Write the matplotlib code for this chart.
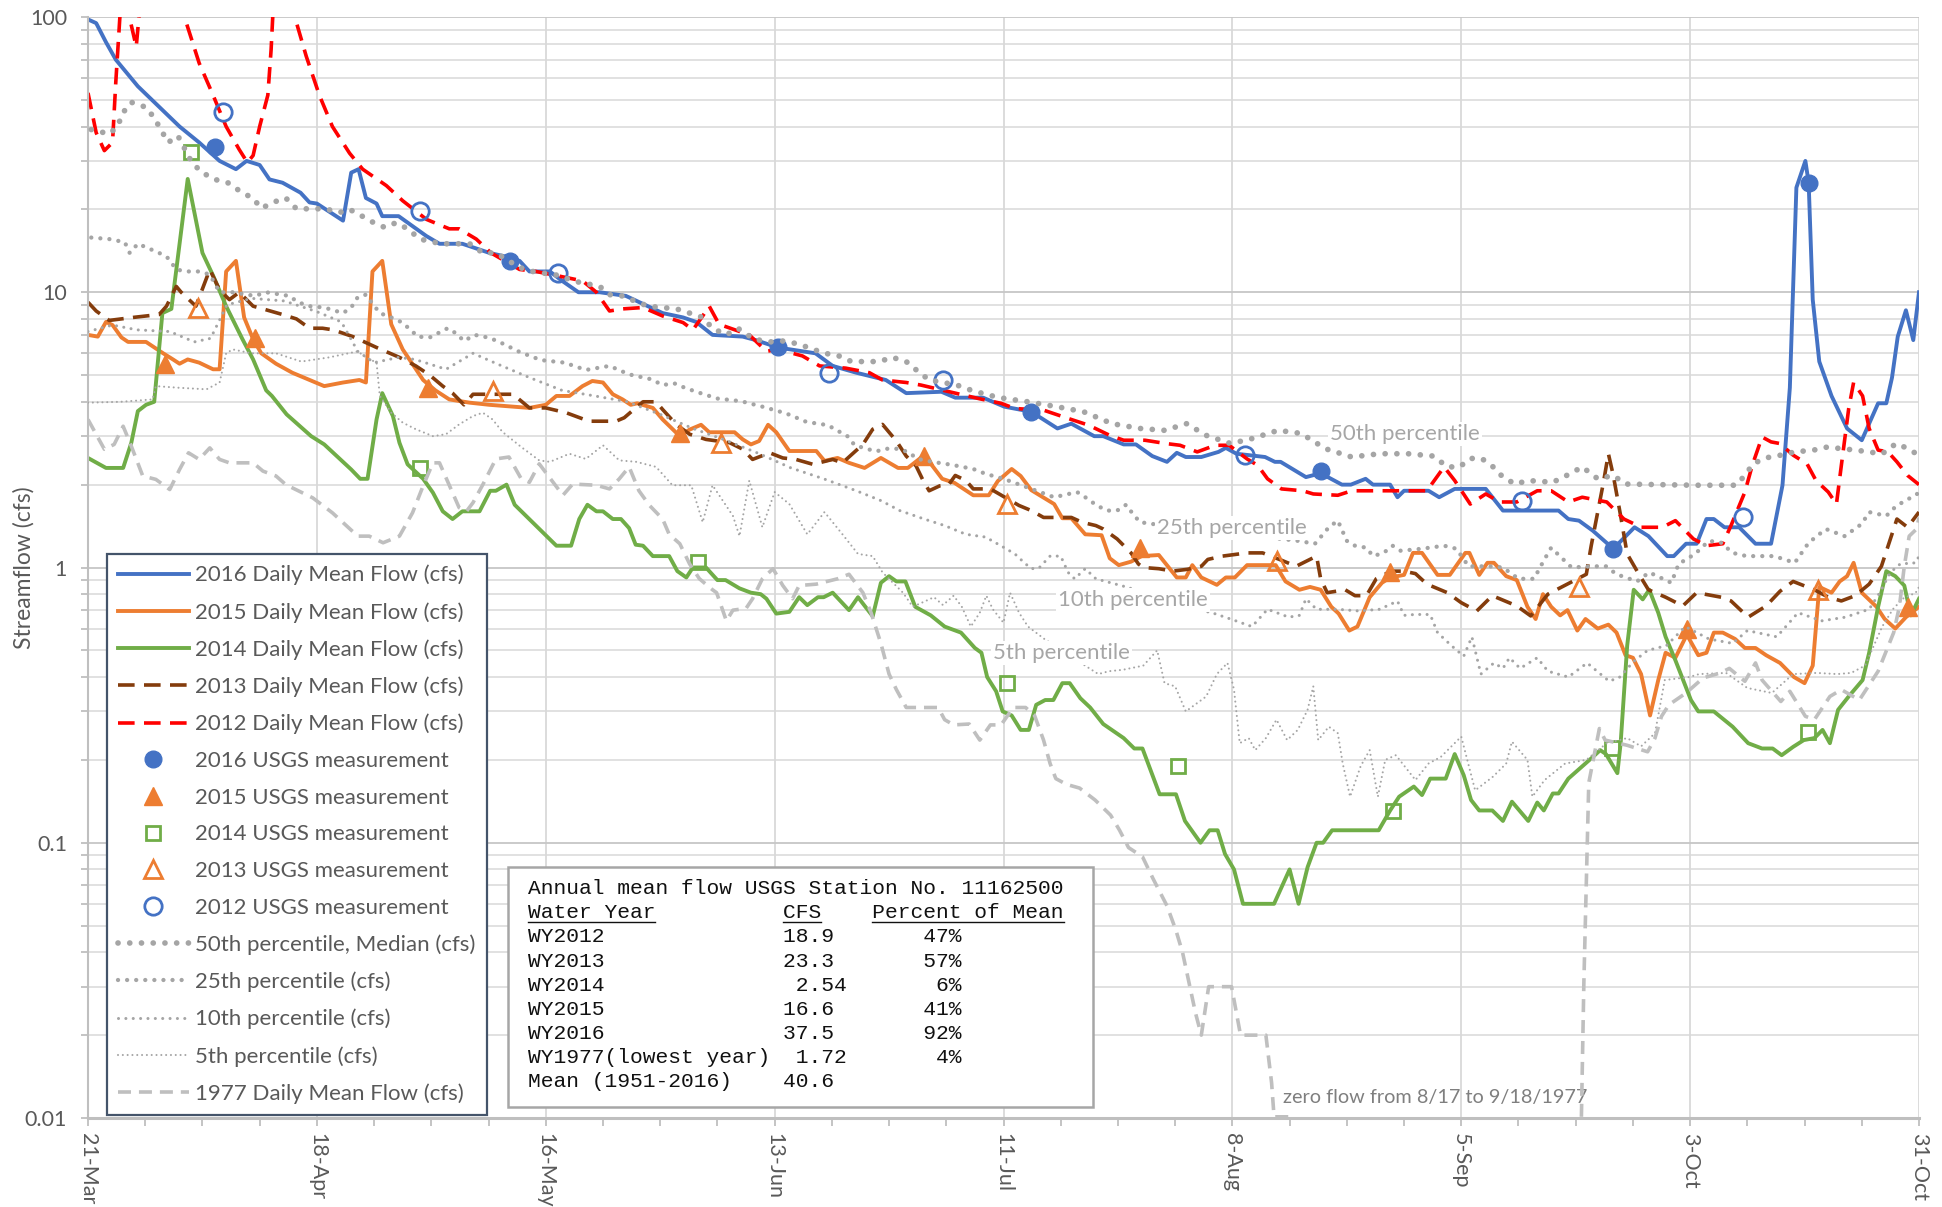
import numpy as np
import matplotlib
matplotlib.use("Agg")
import matplotlib.pyplot as plt
from matplotlib.lines import Line2D
from matplotlib.patches import Rectangle
from matplotlib.ticker import LogLocator, NullFormatter

# ---------------- data (day 0 = 21-Mar) ----------------
X_TICK_DAYS = [0, 28, 56, 84, 112, 140, 168, 196, 224]
X_TICK_LABELS = ["21-Mar", "18-Apr", "16-May", "13-Jun", "11-Jul", "8-Aug", "5-Sep", "3-Oct", "31-Oct"]
Y_TICKS = [0.01, 0.1, 1, 10, 100]
Y_TICK_LABELS = ["0.01", "0.1", "1", "10", "100"]

FLOW_2016 = [(0,98),(1,95),(2.2,81),(3.4,70),(6.1,56),(11.2,40),(13.6,35),(16.1,30),(18.1,28),(19.4,30),(21,29),
    (22.2,25.7),(23.8,25),(26,23),(27.1,21.2),(28,21),(31.2,18.2),(32.2,27.2),(33.1,28),(34,22),(35.3,21),(36,18.9),
    (38,18.9),(41.4,16),(43,15),(45.8,15),(49.1,13.9),(51,13.5),(52.8,13),(54,11.9),(56.5,11.9),(58,11),(60,10),
    (62.6,10),(65.8,9.7),(70.3,8.4),(72.8,8.1),(74.4,7.8),(76.4,7.0),(80.1,6.9),(81.7,6.7),(84.4,6.3),(89,6.0),
    (91.1,5.4),(94,5.1),(97.6,4.8),(100.1,4.3),(104.4,4.35),(106.1,4.14),(109.5,4.14),(112.1,3.84),(115.4,3.68),
    (118.6,3.2),(120.3,3.33),(123.1,3.0),(124.2,3.0),(126.7,2.8),(128.2,2.8),(130.2,2.54),(132,2.42),(133.2,2.61),
    (134.3,2.52),(136.2,2.52),(138.3,2.63),(139.2,2.72),(140.5,2.59),(144,2.52),(145.2,2.42),(145.9,2.42),(149,2.13),
    (150.8,2.2),(153.4,2.0),(154.5,2.0),(156.3,2.1),(157.2,2.0),(159.3,2.0),(160.2,1.8),(161,1.9),(164,1.9),(165.3,1.8),
    (167.2,1.93),(171,1.93),(173.1,1.61),(179.9,1.61),(181.1,1.5),(182.4,1.48),(184.1,1.36),(186.6,1.17),(189.2,1.4),
    (190.9,1.3),(193.2,1.1),(194,1.1),(195.5,1.22),(196.8,1.22),(198,1.5),(198.9,1.5),(200.2,1.4),(202,1.4),(204,1.22),
    (205.9,1.22),(207.3,1.99),(208.2,4.5),(209,24),(210.1,30),(210.5,25),(211,9.4),(211.8,5.6),(213.3,4.2),(215.2,3.2),
    (217,2.9),(219,3.95),(220,3.95),(220.7,4.9),(221.4,6.9),(222.4,8.6),(223.3,6.7),(224,10)]

FLOW_2015 = [(0,7.0),(1.2,6.9),(2.2,7.8),(3,7.6),(4.1,6.85),(4.9,6.6),(7.1,6.6),(9.2,6.0),(10.4,5.7),(11.2,5.5),
    (12.2,5.7),(13.6,5.55),(15.3,5.25),(16.1,5.25),(16.9,11.9),(18.1,13),(19.1,8.1),(20.2,6.75),(21.2,6.0),(23,5.5),
    (25,5.1),(27.1,4.8),(28.9,4.56),(31.2,4.7),(33.2,4.8),(34,4.7),(34.8,11.9),(36,13),(37.1,7.65),(38.5,6.2),(41,4.8),
    (42.5,4.4),(44.2,4.08),(46.7,3.97),(49.1,3.9),(54,3.8),(56,3.9),(57.3,4.2),(58.9,4.2),(60.5,4.56),(61.7,4.76),
    (63,4.7),(64.2,4.26),(65.4,4.08),(66.4,3.9),(67.2,3.95),(69.1,3.8),(70.3,3.45),(72.4,3.0),(73.6,3.17),(75,3.3),
    (76,3.1),(79.1,3.1),(80.1,2.92),(81.1,2.8),(82.1,2.88),(83.2,3.3),(84.2,3.1),(85.8,2.65),(89.1,2.65),(90.1,2.44),
    (91.7,2.5),(93.1,2.4),(95,2.3),(97,2.5),(99.1,2.3),(100.3,2.3),(102.3,2.56),(104.5,2.1),(106,2.03),(108.3,1.83),
    (110.2,1.83),(111.3,2.06),(113,2.28),(114.1,2.15),(115.4,1.91),(118.2,1.7),(119.2,1.51),(120.3,1.51),(122,1.32),
    (124,1.31),(125,1.08),(126.1,1.02),(127.6,1.05),(128.9,1.1),(131,1.11),(133.2,0.92),(134.3,0.92),(135.1,1.02),
    (136.2,0.92),(138.1,0.865),(139.2,0.92),(140.3,0.92),(141.8,1.02),(145.3,1.02),(146.5,0.89),(148.2,0.83),
    (149.5,0.85),(150.8,0.83),(152.1,0.72),(153,0.68),(154.3,0.59),(155.3,0.61),(156.8,0.78),(158.3,0.88),(159.3,0.92),
    (161,0.94),(162.1,1.13),(163.2,1.13),(165.1,0.94),(166.6,0.94),(168.5,1.13),(169,1.13),(170.2,0.94),(171.2,1.04),
    (172,1.04),(173.5,0.93),(174.8,0.90),(176.1,0.72),(177.1,0.65),(178,0.80),(179,0.72),(180.1,0.67),(181,0.70),
    (182.2,0.59),(183.2,0.65),(184.7,0.60),(186,0.62),(187,0.58),(188.1,0.48),(189,0.47),(190,0.41),(191.1,0.29),
    (192.1,0.39),(193,0.49),(194.2,0.47),(195.6,0.57),(197,0.48),(198,0.49),(198.9,0.58),(200,0.58),(201.5,0.55),
    (202.7,0.51),(204,0.51),(205.3,0.48),(207,0.45),(208.7,0.40),(210,0.38),(211,0.44),(211.8,0.85),(213.3,0.81),
    (214.3,0.89),(215.2,0.93),(216,1.04),(217,0.81),(218.8,0.72),(219.8,0.65),(221.1,0.60),(222.4,0.66),(224,0.72)]

FLOW_2014 = [(0,2.5),(2.2,2.3),(4.3,2.3),(5.3,2.84),(6.1,3.7),(7.1,3.9),(8.1,4.0),(9.1,8.4),(10.2,8.7),(12.2,25.8),
    (14,13.9),(15.3,11.5),(16.9,8.9),(18.9,6.75),(20.2,5.7),(21.8,4.4),(22.5,4.2),(24.3,3.6),(27.3,3.0),(28.9,2.8),
    (32.2,2.27),(33.3,2.1),(34.2,2.1),(35.3,3.45),(36,4.3),(37.3,3.55),(38.1,2.84),(39.1,2.37),(41,2.1),(42.2,1.87),
    (43.4,1.6),(44.6,1.5),(45.8,1.6),(47.9,1.6),(49.2,1.9),(49.9,1.9),(51.2,2.0),(52.2,1.69),(57.3,1.2),(59.1,1.2),
    (60.1,1.5),(61.1,1.69),(62.2,1.6),(63,1.6),(64.2,1.5),(65.2,1.5),(66.2,1.39),(67,1.21),(67.9,1.2),(69.1,1.1),
    (71.1,1.1),(72.1,0.97),(73.2,0.92),(74,1.0),(75.6,1.0),(77,0.9),(78,0.9),(79.7,0.84),(81.1,0.81),(82.3,0.8),
    (83,0.77),(84.2,0.68),(85.8,0.69),(87,0.78),(88,0.73),(89.3,0.78),(90,0.78),(91.1,0.81),(93.1,0.70),(94.2,0.78),
    (96,0.665),(97,0.88),(98,0.93),(98.9,0.89),(100,0.89),(101.2,0.72),(103.1,0.67),(104.8,0.61),(106.8,0.58),
    (108.5,0.51),(109.3,0.49),(110,0.40),(111.1,0.355),(111.9,0.30),(113,0.29),(114.1,0.257),(115.1,0.257),(116,0.317),
    (117.1,0.33),(118.1,0.33),(119.2,0.38),(120.1,0.38),(121.4,0.335),(122.6,0.31),(124.2,0.27),(126.7,0.24),(128,0.22),
    (129,0.22),(131.1,0.15),(133.1,0.15),(134.2,0.12),(136.1,0.10),(137.2,0.111),(138.2,0.111),(139.1,0.091),
    (140.2,0.080),(141.3,0.06),(145.1,0.06),(147,0.08),(148.1,0.06),(149.2,0.0815),(150.3,0.1),(151.1,0.1),
    (152.2,0.111),(157.9,0.111),(159.3,0.131),(160.4,0.147),(162.2,0.16),(163.2,0.149),(164.2,0.171),(166.1,0.171),
    (167.2,0.21),(168.3,0.176),(169.2,0.143),(170.2,0.131),(171.8,0.131),(173.1,0.12),(174.2,0.141),(176.2,0.12),
    (177.3,0.14),(178.1,0.131),(179.2,0.151),(179.9,0.151),(181.1,0.171),(183.1,0.193),(184.1,0.205),(185,0.217),
    (185.7,0.21),(187.1,0.179),(187.5,0.23),(188.3,0.52),(189.1,0.83),(190.2,0.766),(191,0.83),(192.1,0.685),(193,0.56),
    (194.2,0.46),(196.1,0.33),(197,0.30),(198.9,0.30),(201.2,0.264),(203.1,0.23),(204.8,0.22),(206.1,0.22),
    (207.2,0.208),(208.6,0.223),(209.9,0.236),(211.2,0.24),(212.2,0.257),(213.1,0.23),(214.1,0.304),(215.4,0.34),
    (217.1,0.39),(217.9,0.49),(219,0.72),(220,0.97),(221.1,0.93),(222.2,0.86),(223,0.67),(224,0.77)]

FLOW_2013 = [(0,9.2),(1,8.55),(2.6,7.9),(5.5,8.1),(8.7,8.3),(9.6,8.9),(10.8,10.5),(11.4,10),(13.2,8.9),(14.9,12.1),
    (16.1,10.2),(17.3,9.4),(18.5,10),(20.2,8.9),(21.4,8.7),(23.8,8.3),(25.5,8.0),(27.1,7.4),(28.7,7.4),(30,7.3),
    (32.4,6.9),(35.3,6.3),(38.1,5.8),(40.1,5.4),(41.8,5.0),(43.4,4.56),(44.6,4.3),(46,3.9),(47.1,4.26),(52,4.26),
    (54,3.8),(56,3.8),(58.5,3.65),(61.3,3.4),(64.6,3.4),(65.6,3.5),(67,3.8),(67.9,4.0),(69.5,4.0),(70.3,3.75),(72,3.3),
    (73.6,3.05),(75.6,2.92),(78.5,2.84),(80.1,2.69),(81.3,2.47),(83.4,2.61),(85,2.5),(86.6,2.47),(88.7,2.37),
    (91.1,2.47),(92.3,2.4),(94.8,2.8),(96,3.18),(97.2,3.31),(98.9,2.88),(100.1,2.54),(101.3,2.34),(102.1,2.09),
    (102.9,1.9),(104.2,1.98),(105.3,2.0),(106.1,2.16),(107.4,2.07),(108.3,1.93),(110.4,1.93),(113.9,1.68),(115.4,1.61),
    (116.9,1.52),(120.3,1.52),(121.6,1.46),(123.3,1.42),(124.2,1.38),(125.9,1.27),(127.6,1.13),(128.5,1.03),(129.1,1.0),
    (131,0.99),(132.7,0.97),(134.5,0.985),(136.2,1.01),(137,1.07),(138.8,1.10),(141.8,1.13),(143.7,1.13),(146.1,1.06),
    (147.8,1.01),(150.3,1.1),(150.8,0.91),(151.6,0.81),(153.8,0.83),(155,0.79),(156.4,0.79),(157.6,0.91),(159.4,0.97),
    (161,0.97),(162.4,0.95),(163.8,0.87),(166.3,0.81),(168,0.745),(169.9,0.695),(171.8,0.79),(174.8,0.725),
    (176.5,0.667),(178.6,0.80),(180.3,0.85),(183.3,0.945),(183.9,1.2),(184.7,1.59),(185.4,2.04),(186,2.59),(186.6,2.16),
    (187.5,1.54),(188.3,1.12),(189.6,0.96),(190.9,0.83),(193,0.78),(195.1,0.725),(196.8,0.81),(199.8,0.78),(201,0.756),
    (203.1,0.66),(205.3,0.725),(207,0.82),(208.6,0.89),(211.2,0.83),(212.9,0.78),(214.5,0.756),(216.2,0.79),
    (217.9,0.87),(219.4,1.01),(220.5,1.27),(221.3,1.5),(222.6,1.4),(224,1.59)]

FLOW_2012 = [(0,53),(1,38),(2,32.7),(3,35),(3.4,58),(3.9,100),(4.4,130),(4.9,105),(5.9,78),(6.3,105),(6.8,140),
    (11.3,140),(11.8,100),(13.6,68),(15.3,52),(16.9,40),(18.5,33),(19.5,29.6),(20.2,31.4),(21,40),(22,52),(22.4,76),
    (22.6,100),(23,140),(25,140),(25.3,100),(26.7,72),(28.3,52),(29.9,40),(32,32),(33.6,28),(36.5,24.4),(38.5,21.5),
    (41.4,18.4),(44.2,17),(45.4,17),(47.5,15.6),(49.3,13.9),(52.8,12.1),(54.8,11.9),(57.3,11.5),(60.5,11),(62.2,10),
    (63.8,8.55),(65.4,8.7),(67.9,8.8),(70.3,8.2),(72.8,7.76),(74,7.3),(75.2,8.2),(76,8.9),(77.2,7.65),(80.9,7.0),
    (83,6.1),(84.4,6.2),(87.4,5.87),(89.5,5.4),(92.7,5.3),(95.6,5.1),(97.2,4.8),(100.1,4.7),(101.9,4.6),(106.1,4.3),
    (109.1,4.1),(111.7,3.95),(113.4,3.78),(116.9,3.73),(119.9,3.48),(122.4,3.29),(125,3.02),(126.7,2.9),(129.3,2.9),
    (131.9,2.82),(133.6,2.78),(135.7,2.63),(137.9,2.78),(139.6,2.78),(141.8,2.48),(143.1,2.35),(144.3,2.1),(146,1.93),
    (148.6,1.9),(149.9,1.85),(152.9,1.83),(154.6,1.9),(163.8,1.9),(165.9,2.32),(167.2,2.07),(169.1,1.7),(171,1.85),
    (172.7,1.73),(174.8,1.73),(177.3,1.9),(179,1.9),(181.1,1.73),(182.8,1.8),(185.8,1.73),(187.9,1.5),(190,1.4),
    (192.6,1.4),(194.2,1.48),(196.4,1.27),(198,1.2),(200,1.22),(201,1.42),(202.7,1.88),(203.6,2.35),(204.8,2.98),
    (205.9,2.86),(207,2.82),(208.6,2.56),(210.3,2.38),(211.4,2.07),(212.9,1.88),(213.9,1.7),(214.5,2.35),(215.4,3.78),
    (216,4.7),(217.1,4.2),(217.9,3.2),(219,2.67),(220.2,2.63),(221.3,2.42),(222.6,2.16),(224,2.0)]

MEAS_2016 = [(15.5,33.6),(51.6,13.0),(84.4,6.3),(115.4,3.68),(150.8,2.25),(186.6,1.17),(210.5,25)]
MEAS_2015 = [(9.4,5.5),(20.4,6.8),(41.6,4.5),(72.4,3.07),(102.3,2.55),(128.7,1.18),(159.3,0.96),(195.6,0.60),(222.6,0.72)]
MEAS_2014 = [(12.6,32.4),(40.6,2.3),(74.6,1.05),(112.4,0.38),(133.4,0.19),(159.6,0.13),(186.4,0.22),(210.4,0.253)]
MEAS_2013 = [(13.4,8.8),(49.5,4.38),(77.5,2.84),(112.4,1.70),(145.4,1.06),(182.4,0.85),(211.6,0.83)]
MEAS_2012 = [(16.5,45),(40.6,19.7),(57.5,11.7),(90.6,5.1),(104.6,4.8),(141.5,2.57),(175.4,1.74),(202.5,1.52)]

PCT_50 = [(0.4,39),(2.6,37.6),(3.6,40),(4.3,45),(5.3,49),(7.1,47),(8.1,43),(9,38.6),(9.8,35),(11,37),(12.6,30),
    (13.8,27.4),(15.5,25.7),(17.1,25),(18.5,23.4),(20.2,21.9),(21.2,20.2),(23.6,21.8),(24.2,22),(25.5,20.1),(29,20.1),
    (30.8,19.5),(32,20),(33.4,19),(34.8,18),(36.3,17.2),(37.7,17.9),(39.1,17),(40.6,15.6),(43.2,15),(46.7,15),
    (48.3,13.9),(49.9,13.9),(52.8,12.3),(54.4,11.9),(57.7,11.5),(59.3,11),(62.6,10.5),(63.8,9.8),(65.3,9.7),(68.5,8.9),
    (72,8.7),(73.6,8.4),(75.2,8.1),(76.4,7.4),(78.1,7.0),(79.5,7.4),(81.5,6.75),(83.4,6.6),(85,6.65),(86.8,6.5),
    (90.1,6.0),(91.7,5.9),(93.4,5.6),(96.8,5.6),(98.4,5.8),(100.1,5.6),(101.4,5.2),(102.9,4.8),(104.6,4.7),(106.3,4.6),
    (108.1,4.4),(109.8,4.26),(111.5,4.14),(115,4.0),(118.5,3.84),(121.8,3.68),(125.3,3.33),(128.7,3.2),(131.7,3.15),
    (134.4,3.33),(136.8,3.02),(139.8,2.82),(142.4,2.94),(145.6,3.15),(148.4,3.07),(151.4,2.7),(154.6,2.52),(158,2.59),
    (161.5,2.59),(164.6,2.54),(166.3,2.32),(167.8,2.32),(169.1,2.49),(170.5,2.49),(171.9,2.32),(173.1,2.13),(174.6,2.01),
    (176.2,2.07),(179.2,2.04),(181.3,2.19),(182.8,2.32),(184.7,2.1),(186.6,2.16),(188.1,2.01),(196.6,1.99),(201.6,1.99),
    (202.7,2.16),(203.7,2.38),(205.2,2.5),(207.1,2.56),(208.8,2.63),(211.1,2.67),(212.8,2.74),(214.6,2.7),(216.3,2.67),
    (217.8,2.63),(219.5,2.59),(221.2,2.82),(222.2,2.74),(223.5,2.61),(224,2.6)]

PCT_25 = [(0.4,15.8),(2.6,15.6),(4.5,15.2),(5.1,13.9),(6.1,15),(8.7,13.9),(9.8,13.3),(10.8,12.1),(12,11.9),(13.6,11.9),
    (14.9,11.6),(16.1,10),(17.7,10),(20.4,9.7),(21.8,10),(24.6,9.7),(25.7,9.2),(27.1,8.9),(28.9,8.8),(31.2,8.4),
    (32.2,8.8),(33,9.6),(34,9.8),(34.8,9.1),(35.7,8.4),(37.1,8.1),(38.3,7.8),(39.5,7.3),(40.3,6.9),(41.8,6.85),(44,7.4),
    (45,7.1),(46,6.65),(47.3,7.0),(48.9,6.85),(50.1,6.65),(52.8,6.07),(55.4,5.67),(58.3,5.55),(60.9,5.22),(63.8,5.4),
    (66.2,5.03),(68.9,4.83),(70.3,4.6),(71.7,4.67),(73,4.5),(74.4,4.35),(77,4.11),(79.9,4.02),(82.5,3.84),(85.4,3.63),
    (87.9,3.38),(90.5,3.29),(92.9,3.0),(93.8,2.78),(96.4,2.64),(97.6,2.7),(99.1,2.7),(100.3,2.63),(101.5,2.48),
    (103.3,2.42),(105.7,2.36),(108.3,2.28),(109.8,2.19),(112,2.1),(115,1.95),(118.2,1.8),(121,1.88),(122,1.8),
    (123.3,1.69),(124.6,1.61),(125.9,1.61),(127,1.69),(127.8,1.57),(128.7,1.46),(129.5,1.45),(133,1.4),(137,1.35),
    (141,1.3),(145,1.28),(148,1.25),(150.1,1.22),(150.8,1.29),(151.8,1.4),(152.9,1.48),(154,1.25),(155,1.2),(156.4,1.18),
    (157.2,1.1),(158.5,1.13),(159.6,1.2),(160.6,1.15),(163.2,1.17),(165.9,1.2),(167.4,1.17),(168.9,1.01),(171.4,1.01),
    (173.1,1.0),(175,0.91),(176.9,0.91),(178.1,1.06),(179,1.18),(181.5,1.0),(184,1.01),(185.7,1.01),(187,0.945),
    (189.5,0.89),(191,0.96),(193.7,0.88),(194.6,1.03),(196.6,1.12),(198.3,1.25),(199.8,1.23),(201.2,1.13),(202.9,1.1),
    (206.3,1.1),(208.8,1.04),(210.5,1.23),(212.6,1.38),(214.9,1.3),(217,1.44),(217.9,1.59),(220,1.54),(221.1,1.66),
    (222.3,1.75),(223.6,1.83),(224,1.88)]

PCT_10 = [(0,7.2),(3,7.6),(6,7.3),(10,7.2),(13,6.6),(15,6.8),(17,9.0),(20,9.5),(24,9.3),(28,8.5),(31,7.8),(33,6.1),
    (35,5.55),(38,5.8),(40,5.7),(43.8,5.25),(47.1,6.0),(50,5.5),(54,4.9),(58,4.4),(62,4.2),(66,4.0),(70,3.6),(74,3.2),
    (78,2.9),(82,2.6),(86,2.3),(90,2.1),(94,1.9),(97,1.75),(99.3,1.61),(102.3,1.5),(104.8,1.42),(107.4,1.32),
    (109.8,1.29),(112.1,1.18),(113.4,1.12),(114.7,1.03),(115.5,0.99),(116.4,1.0),(117.7,1.1),(119,1.1),(119.9,0.96),
    (120.7,0.91),(122,0.99),(123.3,0.91),(127,0.85),(131,0.78),(134,0.72),(137.5,0.685),(140.1,0.645),(142.4,0.61),
    (144.3,0.705),(146.9,0.66),(148.2,0.67),(149,0.77),(150.3,0.705),(152.9,0.705),(155.5,0.695),(158,0.705),
    (160.2,0.755),(161,0.67),(162.3,0.675),(164.2,0.675),(165.1,0.58),(166.8,0.52),(168.3,0.476),(169.3,0.56),
    (170.4,0.41),(172,0.45),(173.1,0.43),(173.9,0.47),(175.2,0.43),(177.3,0.47),(178.6,0.42),(181.1,0.40),(183.4,0.45),
    (186.1,0.386),(187.4,0.40),(189.1,0.456),(190.8,0.50),(193.1,0.52),(195.4,0.61),(198.3,0.55),(201.2,0.53),
    (203,0.59),(206.6,0.56),(209.2,0.685),(212.1,0.64),(215,0.66),(217.9,0.705),(219.2,0.81),(220.5,0.96),(221.7,1.03),
    (223.6,1.04),(224,1.1)]

PCT_05 = [(0,3.97),(4,4.0),(7.9,4.08),(8.3,4.56),(11,4.5),(14.5,4.44),(16.1,4.7),(16.9,6.0),(17.7,6.2),(20,6.0),
    (23,6.0),(26.1,5.6),(29.5,5.8),(33,6.1),(34,5.8),(35.3,5.55),(35.7,4.2),(37.1,3.65),(38.5,3.36),(40.1,3.18),
    (42.2,3.0),(43.8,3.05),(45.4,3.31),(47.1,3.55),(48.3,3.65),(49.5,3.45),(50.7,3.11),(53,2.74),(55.2,2.45),
    (56.5,2.42),(58.9,2.59),(60.9,2.48),(63,2.78),(65,2.45),(67.1,2.42),(69.5,2.32),(71.5,1.99),(73.8,1.99),(75.2,1.46),
    (76.4,1.99),(78.9,1.54),(79.7,1.3),(80.9,2.07),(82.5,1.4),(84,1.88),(85.8,1.7),(88,1.32),(90.1,1.59),(92.3,1.32),
    (94.2,1.12),(96,1.1),(97.2,0.96),(99.7,0.81),(100.9,0.72),(103.5,0.78),(104.6,0.73),(105.9,0.79),(106.9,0.72),
    (108,0.61),(109.1,0.685),(109.9,0.79),(110.7,0.705),(112,0.63),(112.8,0.81),(113.9,0.685),(115,0.61),(117,0.55),
    (120,0.48),(123.6,0.41),(124.9,0.42),(126.6,0.425),(129.1,0.44),(130.8,0.50),(131.7,0.38),(133,0.37),(134.3,0.30),
    (135.6,0.32),(136.8,0.34),(138.1,0.41),(139.4,0.45),(140.2,0.36),(140.9,0.23),(142,0.24),(142.8,0.217),(144.1,0.24),
    (145.4,0.28),(146.7,0.236),(148,0.257),(149.2,0.304),(149.9,0.37),(150.5,0.236),(151.8,0.264),(152.9,0.25),
    (153.5,0.194),(154.4,0.147),(155.7,0.19),(156.8,0.217),(157.8,0.147),(158.7,0.2),(160,0.208),(162.4,0.169),
    (164,0.194),(165.5,0.205),(168,0.243),(169.7,0.155),(171.9,0.174),(173.5,0.194),(174.2,0.233),(176.1,0.2),
    (176.7,0.147),(178.2,0.169),(180.7,0.194),(183.3,0.2),(185.8,0.23),(188.3,0.24),(190,0.224),(191.7,0.25),
    (192.9,0.39),(195.9,0.40),(197.1,0.41),(200.4,0.414),(203,0.365),(206,0.35),(208.6,0.41),(211.5,0.414),(214,0.41),
    (215.7,0.414),(217.4,0.44),(218.6,0.53),(219.5,0.61),(220.8,0.705),(222,0.77),(223.6,0.81),(224,0.85)]

FLOW_1977 = [(0,3.45),(2,2.69),(3.2,2.8),(4.3,3.26),(5.3,2.76),(6.7,2.15),(8.3,2.09),(10,1.92),(11.2,2.27),(12.3,2.61),
    (13.6,2.47),(14.9,2.72),(16.1,2.47),(17.3,2.4),(20.2,2.4),(21.4,2.24),(23,2.15),(24.2,2.0),(27.5,1.79),(29.9,1.58),
    (33,1.3),(34.4,1.3),(36.1,1.23),(38.1,1.3),(39.7,1.58),(41,1.98),(42.2,2.4),(43,2.4),(44.2,1.99),(45.4,1.65),
    (46.3,1.6),(47.1,1.72),(48.3,2.0),(49.9,2.48),(51.5,2.52),(53,2.1),(54,2.04),(55.2,2.38),(58.1,1.83),(59.3,2.01),
    (62.2,1.99),(63.8,1.93),(65,2.1),(66.2,2.32),(67.4,1.9),(68.7,1.68),(70.3,1.5),(71.1,1.32),(72.4,1.22),(73.6,1.03),
    (74.8,0.91),(76.4,0.83),(76.9,0.81),(78.1,0.64),(78.9,0.70),(80.5,0.71),(81.3,0.77),(82.5,0.91),(83.8,0.99),
    (85,0.86),(86.2,0.77),(87,0.86),(89.1,0.87),(91.7,0.91),(93.1,0.945),(94.8,0.81),(95.8,0.685),(97,0.53),(98,0.41),
    (98.9,0.36),(100.1,0.31),(104,0.31),(104.8,0.28),(105.9,0.268),(107.8,0.27),(109.1,0.236),(110.4,0.268),
    (111.7,0.268),(113.2,0.31),(114.7,0.31),(115.8,0.29),(116.9,0.236),(117.7,0.194),(118.4,0.171),(119.7,0.163),
    (121.3,0.158),(123.2,0.143),(125.1,0.126),(126.2,0.111),(127.3,0.096),(129,0.089),(130.3,0.074),(132,0.059),
    (133.1,0.048),(133.9,0.04),(134.7,0.031),(135.5,0.024),(136.2,0.02),(137.1,0.03),(139.9,0.03),(141,0.02),
    (144.1,0.02),(144.8,0.0134),(145.1,0.0101),(147.5,0.0101),(165,None),(182.7,0.0101),(183,0.031),(183.3,0.071),
    (183.6,0.165),(184.9,0.26),(185.6,0.236),(188.3,0.226),(190.8,0.214),(191.7,0.24),(192.5,0.288),(193.4,0.317),
    (195.5,0.35),(197.6,0.397),(199.7,0.414),(200.8,0.43),(202.7,0.386),(204,0.45),(204.8,0.39),(207.1,0.326),
    (208.2,0.355),(210.1,0.288),(211.2,0.28),(213.1,0.34),(214.5,0.36),(216.7,0.33),(219,0.42),(220.9,0.58),
    (221.6,0.72),(222.2,1.01),(222.8,1.3),(223.7,1.38),(224,1.52)]

LEGEND_LABELS = ["2016 Daily Mean Flow (cfs)", "2015 Daily Mean Flow (cfs)", "2014 Daily Mean Flow (cfs)",
                 "2013 Daily Mean Flow (cfs)", "2012 Daily Mean Flow (cfs)", "2016 USGS measurement",
                 "2015 USGS measurement", "2014 USGS measurement", "2013 USGS measurement", "2012 USGS measurement",
                 "50th percentile, Median (cfs)", "25th percentile (cfs)", "10th percentile (cfs)",
                 "5th percentile (cfs)", "1977 Daily Mean Flow (cfs)"]

TABLE_LINES = [
    "Annual mean flow USGS Station No. 11162500",
    "Water Year          CFS    Percent of Mean",
    "WY2012              18.9       47%",
    "WY2013              23.3       57%",
    "WY2014               2.54       6%",
    "WY2015              16.6       41%",
    "WY2016              37.5       92%",
    "WY1977(lowest year)  1.72       4%",
    "Mean (1951-2016)    40.6",
]


def xy(pairs):
    d = np.array([p[0] for p in pairs], float)
    v = np.array([np.nan if p[1] is None else p[1] for p in pairs], float)
    return d, v


# ---------------- styling ----------------
plt.rcParams['font.family'] = ['Lato', 'DejaVu Sans']
C16, C15, C14, C13, C12 = '#4472C4', '#ED7D31', '#70AD47', '#843C0C', '#FF0000'
GR, G77, TXT = '#A5A5A5', '#BFBFBF', '#595959'

W, H = 1942, 1207
L, R, T, B = 88, 1919, 17, 1118
fig = plt.figure(figsize=(W / 100, H / 100), dpi=100)
ax = fig.add_axes([L / W, 1 - B / H, (R - L) / W, (B - T) / H])
ax.set_yscale('log')
ax.set_xlim(0, 224)
ax.set_ylim(0.01, 100)

ax.set_yticks(Y_TICKS)
ax.set_yticklabels(Y_TICK_LABELS)
ax.yaxis.set_minor_locator(LogLocator(base=10, subs=np.arange(2, 10) * 1.0, numticks=100))
ax.yaxis.set_minor_formatter(NullFormatter())
ax.set_xticks(X_TICK_DAYS)
ax.set_xticklabels(X_TICK_LABELS, rotation=-90)
ax.set_xticks(np.arange(0, 225, 7), minor=True)

ax.grid(True, which='major', axis='y', color='#C6C6C6', lw=1.3)
ax.grid(True, which='minor', axis='y', color='#D9D9D9', lw=1.1)
ax.grid(True, which='major', axis='x', color='#D9D9D9', lw=1.3)
ax.set_axisbelow(True)

for s in ['top', 'right']:
    ax.spines[s].set_visible(False)
ax.spines['left'].set_color('#BFBFBF')
ax.spines['left'].set_linewidth(1.5)
ax.spines['bottom'].set_color('#BFBFBF')
ax.spines['bottom'].set_linewidth(2.2)

ax.tick_params(axis='both', which='both', direction='out', color='#BFBFBF', width=1.3)
ax.tick_params(axis='y', which='both', length=5)
ax.tick_params(axis='x', which='both', length=6)
ax.tick_params(axis='y', which='major', labelsize=15.5, labelcolor=TXT, pad=10)
ax.tick_params(axis='x', which='major', labelsize=15.5, labelcolor=TXT, pad=5)

ax.set_ylabel('Streamflow (cfs)', fontsize=16.5, color=TXT)
ax.yaxis.set_label_coords((35 - L) / (R - L), 0.5)

DASH = (0, (4.6, 2.6))
ax.plot(*xy(FLOW_2016), color=C16, lw=2.8, zorder=2.0, solid_joinstyle='round')
ax.plot(*xy(FLOW_2015), color=C15, lw=2.8, zorder=2.1, solid_joinstyle='round')
ax.plot(*xy(FLOW_2014), color=C14, lw=2.8, zorder=2.2, solid_joinstyle='round')
ax.plot(*xy(FLOW_2013), color=C13, lw=2.6, ls=DASH, zorder=2.3)
ax.plot(*xy(FLOW_2012), color=C12, lw=2.6, ls=DASH, zorder=2.4)

ax.plot(*xy(MEAS_2016), ls='none', marker='o', ms=12, color=C16, zorder=3.0)
ax.plot(*xy(MEAS_2015), ls='none', marker='^', ms=12.5, color=C15, zorder=3.0)
ax.plot(*xy(MEAS_2014), ls='none', marker='s', ms=10.5, mfc='none', mec=C14, mew=2, zorder=3.0)
ax.plot(*xy(MEAS_2013), ls='none', marker='^', ms=12.5, mfc='none', mec=C15, mew=2, zorder=3.0)
ax.plot(*xy(MEAS_2012), ls='none', marker='o', ms=12.5, mfc='none', mec=C16, mew=2, zorder=3.0)

S50 = dict(color=GR, lw=4.1, ls=(0, (0.01, 2.05)), dash_capstyle='round')
S25 = dict(color=GR, lw=3.1, ls=(0, (0.01, 2.1)), dash_capstyle='round')
S10 = dict(color=GR, lw=2.2, ls=(0, (0.01, 2.4)), dash_capstyle='round')
S05 = dict(color=GR, lw=1.5, ls=(0, (0.01, 2.3)), dash_capstyle='round')
S77 = dict(color=G77, lw=2.6, ls=(0, (3.6, 2.2)))
ax.plot(*xy(PCT_50), zorder=3.4, **S50)
ax.plot(*xy(PCT_25), zorder=3.4, **S25)
ax.plot(*xy(PCT_10), zorder=3.4, **S10)
ax.plot(*xy(PCT_05), zorder=3.4, **S05)
ax.plot(*xy(FLOW_1977), zorder=3.6, **S77)

lab_kw = dict(color='#A6A6A6', fontsize=16, va='center', ha='left', zorder=3.55,
              bbox=dict(fc='white', ec='none', pad=1.5))
ax.text(152, 3.05, '50th percentile', **lab_kw)
ax.text(130.8, 1.39, '25th percentile', **lab_kw)
ax.text(118.7, 0.76, '10th percentile', **lab_kw)
ax.text(110.7, 0.49, '5th percentile', **lab_kw)
ax.text(146.2, 0.0119, 'zero flow from 8/17 to 9/18/1977', color='#7F7F7F', fontsize=14.3,
        va='center', ha='left', zorder=3.55)

handles = [
    Line2D([], [], color=C16, lw=2.8), Line2D([], [], color=C15, lw=2.8), Line2D([], [], color=C14, lw=2.8),
    Line2D([], [], color=C13, lw=2.6, ls=DASH), Line2D([], [], color=C12, lw=2.6, ls=DASH),
    Line2D([], [], ls='none', marker='o', ms=12, color=C16),
    Line2D([], [], ls='none', marker='^', ms=12.5, color=C15),
    Line2D([], [], ls='none', marker='s', ms=10.5, mfc='none', mec=C14, mew=2),
    Line2D([], [], ls='none', marker='^', ms=12.5, mfc='none', mec=C15, mew=2),
    Line2D([], [], ls='none', marker='o', ms=12.5, mfc='none', mec=C16, mew=2),
    Line2D([], [], **S50), Line2D([], [], **S25), Line2D([], [], **S10), Line2D([], [], **S05),
    Line2D([], [], **S77),
]
leg = ax.legend(handles, LEGEND_LABELS, loc='upper left',
                bbox_to_anchor=((106.5 - L) / (R - L), (B - 553.6) / (B - T)),
                fontsize=16, frameon=True, fancybox=False, edgecolor='#44546A', framealpha=1,
                handlelength=3.2, handletextpad=0.3, labelspacing=0.75, borderpad=0.5,
                borderaxespad=0, numpoints=1, labelcolor=TXT)
leg.get_frame().set_linewidth(1.6)
leg.set_zorder(10)

# table box
fig.add_artist(Rectangle((508 / W, 1 - 1106.5 / H), (1093 - 508) / W, (1106.5 - 866.7) / H,
                         transform=fig.transFigure, fc='white', ec='#A6A6A6', lw=1.8, zorder=5))
CW = 12.76
X0 = 527.6
for i, line in enumerate(TABLE_LINES):
    yb = 894.3 + i * 24.1
    fig.text(X0 / W, 1 - yb / H, line, fontfamily='Liberation Mono', fontsize=15.3,
             va='baseline', ha='left', color='#111111', zorder=6)
UL_Y = 922.3
for c0, c1 in [(0, 10), (20, 23), (27, 42)]:
    fig.add_artist(Line2D([(X0 + c0 * CW) / W, (X0 + c1 * CW) / W], [1 - UL_Y / H, 1 - UL_Y / H],
                          transform=fig.transFigure, color='#111111', lw=1.0, zorder=6))

fig.savefig('out.png', dpi=100)
